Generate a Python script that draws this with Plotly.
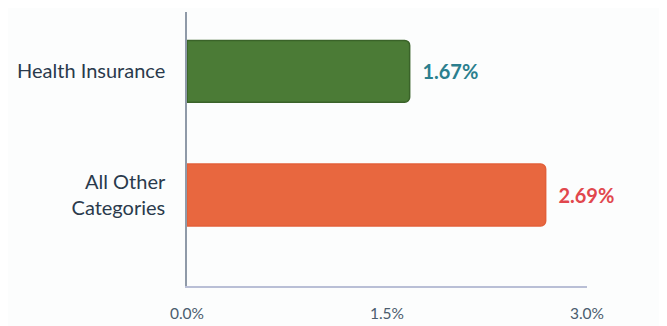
import plotly.graph_objects as go

categories = ["Health Insurance", "All Other<br>Categories"]
values = [1.67, 2.69]
value_labels = ["1.67%", "2.69%"]
bar_colors = ["#4b7b36", "#e8673f"]
bar_line_colors = ["#3a6329", "#e2603a"]
label_colors = ["#2b7f8e", "#e1474d"]
tick_vals = [0, 1.5, 3.0]
tick_text = ["0.0%", "1.5%", "3.0%"]

fig = go.Figure(
    go.Bar(
        x=values,
        y=[0, 1],
        orientation="h",
        width=0.5,
        marker=dict(color=bar_colors, line=dict(color=bar_line_colors, width=1.5), cornerradius=5),
        text=value_labels,
        texttemplate="  %{text}",
        textposition="outside",
        textfont=dict(family="Lato", size=20, color=label_colors, weight="bold"),
        cliponaxis=False,
        hoverinfo="skip",
    )
)

fig.update_layout(
    width=659,
    height=318,
    margin=dict(l=179, r=80, t=4, b=37),
    paper_bgcolor="#fcfdfd",
    plot_bgcolor="#fcfdfd",
    showlegend=False,
    font=dict(family="Lato"),
)
fig.update_xaxes(
    range=[0, 3.0],
    tickvals=tick_vals,
    ticktext=tick_text,
    showgrid=False,
    zeroline=False,
    showline=True,
    linecolor="#b9bfd6",
    linewidth=1.5,
    ticks="",
    ticklabelstandoff=13,
    tickfont=dict(family="Lato", size=15.5, color="#4a5c6e"),
)
fig.update_yaxes(
    range=[1.736, -0.48],
    tickvals=[0, 1],
    ticktext=categories,
    showgrid=False,
    zeroline=False,
    showline=True,
    linecolor="#8f9aa8",
    linewidth=1.5,
    ticks="",
    ticklabelstandoff=16,
    tickfont=dict(family="Lato", size=20, color="#2a3a4c"),
)

fig.write_html("out.html")
